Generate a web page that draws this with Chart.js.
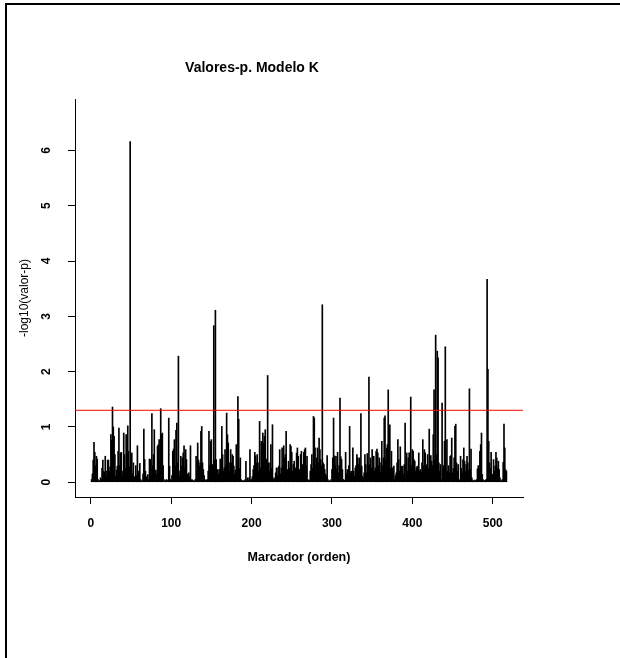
<!DOCTYPE html>
<html>
<head>
<meta charset="utf-8">
<script src="https://cdn.jsdelivr.net/npm/chart.js@4.4.0/dist/chart.umd.min.js"></script>
<style>
    html, body { margin: 0; padding: 0; background: #fff; }
    #wrap { position: relative; width: 620px; height: 658px; }
    #marco { position: absolute; left: 5px; top: 3px; right: 0; bottom: 0; border-top: 2px solid #000; border-left: 2px solid #000; }
    canvas { position: absolute; left: 0; top: 0; }
</style>
</head>
<body>
<div id="wrap">
    <div id="marco"></div>
    <canvas id="grafico" width="620" height="658"></canvas>
</div>
<script>
// -log10(valor-p) por marcador (marcador 1 a 517)
const valores = [
    0.05, 0.15, 0.40, 0.72, 0.54, 0.30, 0.47, 0.42, 0.05, 0.02,
    0.03, 0.08, 0.05, 0.25, 0.40, 0.20, 0.18, 0.47, 0.20, 0.10,
    0.40, 0.40, 0.20, 0.28, 0.86, 0.76, 1.36, 1.00, 0.83, 0.50,
    0.10, 0.22, 0.29, 0.56, 0.98, 0.30, 0.53, 0.54, 0.12, 0.20,
    0.89, 0.50, 0.25, 0.86, 0.44, 1.02, 0.56, 0.28, 6.16, 0.47,
    0.53, 0.15, 0.35, 0.10, 0.05, 0.30, 0.12, 0.66, 0.17, 0.20,
    0.34, 0.05, 0.02, 0.03, 0.15, 0.96, 0.41, 0.20, 0.10, 0.03,
    0.14, 0.05, 0.42, 0.41, 0.12, 1.24, 0.30, 0.50, 0.95, 0.17,
    0.22, 0.14, 0.65, 0.68, 0.77, 0.40, 1.33, 0.86, 0.89, 0.30,
    0.05, 0.02, 0.03, 0.05, 0.02, 0.04, 1.16, 0.29, 0.05, 0.03,
    0.12, 0.56, 0.60, 0.77, 0.30, 0.94, 1.07, 0.35, 2.28, 0.11,
    0.20, 0.47, 0.29, 0.44, 0.53, 0.66, 0.25, 0.59, 0.41, 0.15,
    0.08, 0.17, 0.10, 0.66, 0.04, 0.05, 0.02, 0.03, 0.02, 0.05,
    0.47, 0.20, 0.71, 0.40, 0.29, 0.35, 0.92, 1.01, 0.35, 0.23,
    0.12, 0.05, 0.03, 0.04, 0.05, 0.20, 0.92, 0.30, 0.74, 0.77,
    0.32, 0.08, 2.83, 0.40, 3.11, 0.41, 0.22, 0.23, 0.15, 0.23,
    0.42, 0.18, 1.01, 0.50, 0.20, 0.26, 0.59, 0.30, 1.25, 0.86,
    0.71, 0.35, 0.20, 0.59, 0.35, 0.50, 0.47, 0.29, 0.15, 0.22,
    0.68, 0.30, 1.55, 1.14, 0.25, 0.44, 0.05, 0.02, 0.03, 0.02,
    0.03, 0.05, 0.38, 0.02, 0.08, 0.03, 0.08, 0.59, 0.04, 0.05,
    0.10, 0.23, 0.30, 0.54, 0.48, 0.35, 0.50, 0.35, 0.20, 1.10,
    0.26, 0.74, 0.40, 0.89, 0.71, 0.83, 0.95, 0.30, 0.42, 1.93,
    0.35, 0.20, 0.35, 0.68, 0.25, 1.04, 0.05, 0.08, 0.04, 0.17,
    0.26, 0.12, 0.26, 0.29, 0.59, 0.15, 0.26, 0.62, 0.30, 0.66,
    0.44, 0.50, 0.92, 0.20, 0.23, 0.38, 0.25, 0.68, 0.65, 0.54,
    0.20, 0.32, 0.38, 0.15, 0.26, 0.53, 0.62, 0.47, 0.18, 0.23,
    0.50, 0.56, 0.32, 0.20, 0.54, 0.59, 0.62, 0.30, 0.47, 0.05,
    0.03, 0.04, 0.20, 0.32, 0.50, 0.25, 1.19, 1.16, 0.62, 0.30,
    0.44, 0.62, 0.35, 0.80, 0.59, 0.41, 0.30, 3.21, 0.35, 0.32,
    0.23, 0.15, 0.11, 0.48, 0.05, 0.02, 0.03, 0.02, 0.05, 0.23,
    0.44, 1.16, 0.48, 0.30, 0.47, 0.23, 0.54, 0.17, 0.30, 1.52,
    0.46, 0.41, 0.23, 0.05, 0.02, 0.04, 0.54, 0.15, 0.23, 0.17,
    0.30, 1.01, 0.17, 0.20, 0.14, 0.62, 0.20, 0.11, 0.26, 0.30,
    0.50, 0.44, 0.32, 0.44, 0.25, 1.24, 0.29, 0.11, 0.08, 0.17,
    0.50, 0.32, 0.17, 0.52, 0.30, 1.90, 0.32, 0.44, 0.25, 0.59,
    0.29, 0.47, 0.20, 0.26, 0.56, 0.60, 0.53, 0.30, 0.44, 0.17,
    0.35, 0.74, 0.30, 0.44, 1.16, 1.20, 0.40, 0.62, 0.68, 1.67,
    0.32, 1.04, 0.25, 0.56, 0.26, 0.11, 0.29, 0.05, 0.12, 0.17,
    0.35, 0.77, 0.41, 0.20, 0.64, 0.29, 0.26, 0.29, 0.15, 0.32,
    1.07, 0.05, 0.53, 0.20, 0.44, 0.53, 0.14, 1.54, 0.30, 0.59,
    0.56, 0.41, 0.38, 0.20, 0.26, 0.29, 0.11, 0.53, 0.20, 0.23,
    0.17, 0.35, 0.77, 0.30, 0.59, 0.53, 0.32, 0.29, 0.50, 0.25,
    0.96, 0.23, 0.48, 0.38, 0.30, 0.86, 1.67, 0.41, 2.66, 0.50,
    2.37, 2.25, 0.35, 0.20, 0.32, 0.05, 1.43, 0.23, 0.30, 0.74,
    2.45, 0.20, 0.77, 0.20, 0.30, 0.17, 0.47, 0.48, 0.80, 0.17,
    0.25, 0.44, 1.01, 1.05, 0.35, 0.20, 0.32, 0.05, 0.03, 0.47,
    0.25, 0.17, 0.41, 0.62, 0.38, 0.20, 0.32, 0.47, 0.35, 0.22,
    1.69, 0.23, 0.60, 0.08, 0.03, 0.02, 0.04, 0.02, 0.03, 0.05,
    0.24, 0.30, 0.20, 0.56, 0.68, 0.89, 0.14, 0.05, 0.02, 0.03,
    0.04, 0.05, 3.67, 2.04, 0.74, 0.35, 0.25, 0.54, 0.14, 0.14,
    0.41, 0.20, 0.29, 0.54, 0.44, 0.25, 0.38, 0.23, 0.08, 0.03,
    0.02, 0.05, 0.36, 1.05, 0.62, 0.23, 0.20
];
// orden del marcador (1..517)
const marcadores = valores.map((v, i) => i + 1);

const ticksX = [0, 100, 200, 300, 400, 500];
const ticksY = [0, 1, 2, 3, 4, 5, 6];
const umbral = 1.301; // -log10(0.05)

// limites de los ejes (como en R, 4% extra)
const xMin = -19.64, xMax = 537.64;
const yMin = -0.267, yMax = 6.93;

const fuente = '"Liberation Sans", Arial, sans-serif';

// titulo principal (no centrado sobre el area del grafico)
const tituloPlugin = {
    id: 'titulo',
    afterDraw(chart) {
        const c = chart.ctx;
        c.save();
        c.font = 'bold 14px ' + fuente;
        c.fillStyle = '#000';
        c.textAlign = 'center';
        c.textBaseline = 'middle';
        c.fillText('Valores-p. Modelo K', 252, 68);
        c.restore();
    }
};

const ctx = document.getElementById('grafico').getContext('2d');

new Chart(ctx, {
    type: 'bar',
    data: {
        datasets: [{
            type: 'bar',
            data: marcadores.map((m, i) => ({ x: m, y: valores[i] })),
            backgroundColor: '#000',
            borderWidth: 0,
            barThickness: 1,
            order: 2
        }, {
            type: 'line',
            data: [{ x: xMin, y: umbral }, { x: xMax, y: umbral }],
            borderColor: '#ff0000',
            borderWidth: 1,
            pointRadius: 0,
            order: 1
        }]
    },
    options: {
        responsive: false,
        animation: false,
        devicePixelRatio: 1,
        layout: { padding: { left: 0, top: 99, right: 97, bottom: 0 } },
        plugins: {
            legend: { display: false },
            tooltip: { enabled: false }
        },
        scales: {
            x: {
                type: 'linear',
                min: xMin,
                max: xMax,
                offset: false,
                grid: { display: true, drawOnChartArea: false, drawTicks: true, tickLength: 7, color: '#000', offset: false },
                border: { display: true, color: '#000', width: 1 },
                ticks: { color: '#000', font: { family: fuente, size: 12, weight: 'bold' }, padding: 12, maxRotation: 0, autoSkip: false },
                afterBuildTicks: s => { s.ticks = ticksX.map(v => ({ value: v })); },
                afterFit: s => { s.height = 161; },
                title: {
                    display: true,
                    text: 'Marcador (orden)',
                    color: '#000',
                    font: { family: fuente, size: 12.5, weight: 'bold' },
                    padding: { top: 0, bottom: 93 }
                }
            },
            y: {
                type: 'linear',
                min: yMin,
                max: yMax,
                grid: { display: true, drawOnChartArea: false, drawTicks: true, tickLength: 7, color: '#000' },
                border: { display: true, color: '#000', width: 1 },
                ticks: { color: '#000', font: { family: fuente, size: 12, weight: 'bold' }, padding: 18, minRotation: 90, maxRotation: 90, crossAlign: 'center', autoSkip: false },
                afterBuildTicks: s => { s.ticks = ticksY.map(v => ({ value: v })); },
                afterFit: s => { s.width = 75; },
                title: {
                    display: true,
                    text: '-log10(valor-p)',
                    color: '#000',
                    font: { family: fuente, size: 12 },
                    padding: { top: 17, bottom: 0 }
                }
            }
        }
    },
    plugins: [tituloPlugin]
});
</script>
</body>
</html>
